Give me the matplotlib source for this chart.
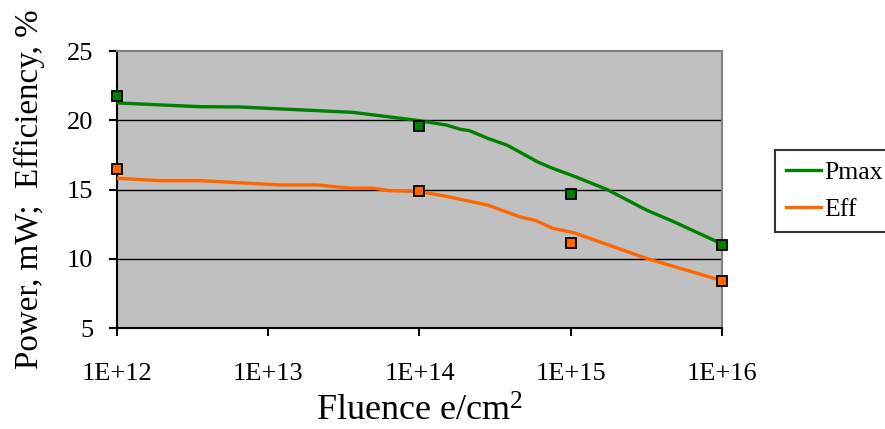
"""
Potencia y eficiencia contra fluencia (eje log)
"""
import numpy as np
import matplotlib.pyplot as plt

plt.rcParams['font.family'] = ['Liberation Serif', 'DejaVu Serif']

# Curvas suavizadas (log10 de la fluencia)
pmax_logx = [12.0, 12.55, 12.81, 13.56, 14.0, 14.18, 14.27, 14.33, 14.45, 14.58,
             14.78, 14.88, 15.02, 15.24, 15.5, 15.68, 16.0]
pmax_y = [21.25, 20.98, 20.96, 20.57, 19.97, 19.65, 19.35, 19.25, 18.7, 18.2,
          17.0, 16.53, 15.97, 15.0, 13.52, 12.68, 11.07]
eff_logx = [12.0, 12.28, 12.55, 13.08, 13.32, 13.54, 13.69, 13.8, 14.0, 14.18,
            14.45, 14.66, 14.77, 14.88, 15.02, 15.5, 16.0]
eff_y = [15.81, 15.64, 15.64, 15.33, 15.33, 15.1, 15.1, 14.92, 14.85, 14.5,
         13.88, 13.04, 12.75, 12.2, 11.88, 10.03, 8.42]

# Puntos medidos
fluencia = [1e12, 1e14, 1e15, 1e16]
pmax_med = [21.75, 19.6, 14.68, 11.02]
eff_med = [16.5, 14.92, 11.16, 8.42]

verde = '#008000'
naranja = '#FF6600'

fig = plt.figure(figsize=(8.85, 4.29), dpi=100)
ax = fig.add_axes([0.1322, 0.2354, 0.6836, 0.6457])
ax.set_facecolor('#C0C0C0')

ax.plot(10 ** np.array(pmax_logx), pmax_y, color=verde, lw=2.4, label='Pmax', zorder=3)
ax.plot(10 ** np.array(eff_logx), eff_y, color=naranja, lw=2.4, label='Eff', zorder=3)
ax.plot(fluencia, pmax_med, 's', color=verde, mec='black', mew=1.3, ms=7,
        ls='none', zorder=4, clip_on=False)
ax.plot(fluencia, eff_med, 's', color=naranja, mec='black', mew=1.3, ms=7,
        ls='none', zorder=4, clip_on=False)

ax.set_xscale('log')
ax.set_xlim(1e12, 1e16)
ax.set_ylim(5, 25)
ax.set_xticks([1e12, 1e13, 1e14, 1e15, 1e16])
ax.set_xticklabels(['1E+12', '1E+13', '1E+14', '1E+15', '1E+16'])
ax.minorticks_off()
ax.set_yticks([5, 10, 15, 20, 25])

for y in [10, 15, 20]:
    ax.axhline(y, color='black', lw=1.0, zorder=1)

ax.tick_params(axis='both', direction='out', length=6, width=1.5, labelsize=19)
ax.tick_params(axis='x', pad=19)
ax.tick_params(axis='y', pad=11)
for s in ['left', 'bottom']:
    ax.spines[s].set_color('black')
    ax.spines[s].set_linewidth(1.5)
for s in ['top', 'right']:
    ax.spines[s].set_color('#808080')
    ax.spines[s].set_linewidth(1.5)

ax.set_xlabel(r'Fluence e/cm$\mathregular{^2}$', fontsize=26, labelpad=8)
ax.set_ylabel('Power, mW;  Efficiency, %', fontsize=23.8, labelpad=16)

leg = fig.legend(loc='upper left', bbox_to_anchor=(775 / 885, 1 - 150 / 429),
                 fontsize=18.5, frameon=True, fancybox=False, edgecolor='black',
                 handlelength=1.36, borderpad=0.42, labelspacing=0.55,
                 handletextpad=0.12, borderaxespad=0)
leg.get_frame().set_linewidth(1.5)

fig.savefig('out.png', dpi=100)
